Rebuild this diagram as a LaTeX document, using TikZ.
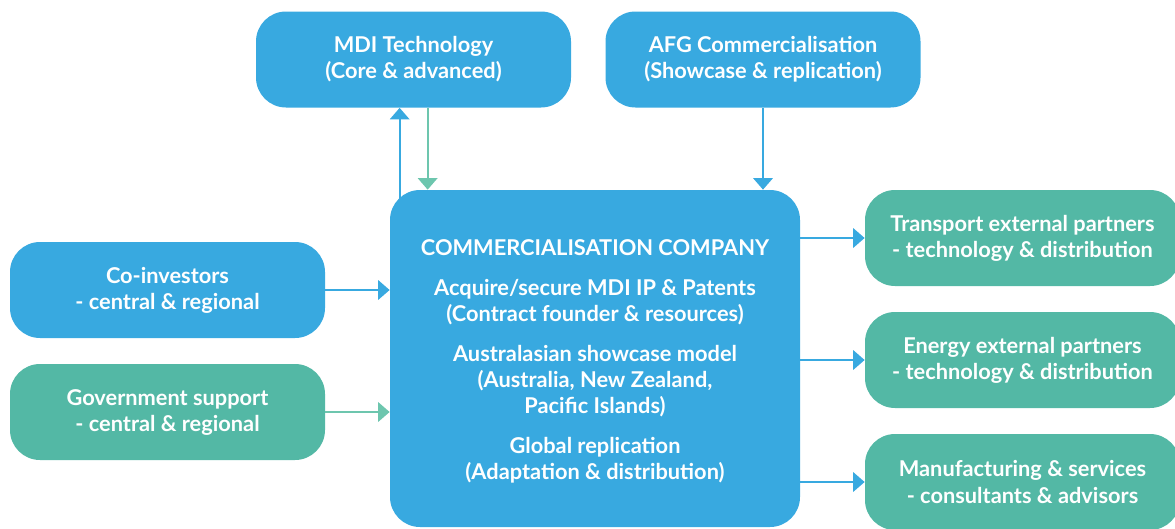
\documentclass[tikz,border=0pt]{standalone}
\usepackage{fontspec}
\setmainfont{Lato}
\usetikzlibrary{calc,arrows.meta}
\definecolor{mdiblue}{HTML}{38A9E0}
\definecolor{mdigreen}{HTML}{53B8A5}
\definecolor{arrowgreen}{HTML}{6DC6AE}
\tikzset{
  box/.style={rounded corners=0.6cm, minimum width=6.3cm, minimum height=1.92cm, inner sep=0pt,
    text=white, align=center, font=\bfseries\fontsize{12.4}{14.8}\selectfont},
  bluebox/.style={box, fill=mdiblue},
  greenbox/.style={box, fill=mdigreen},
  link/.style={line width=1.1pt, -{Triangle[width=11pt,length=6.5pt]}},
}
\begin{document}
\begin{tikzpicture}
			%%%%% BOXES %%%%%
			\useasboundingbox (0, 0) rectangle (23.5, -10.56);
			
			\node[bluebox] (mdi) at (8.27, -1.19) {MDI Technology\\(Core \& advanced)};
			\node[bluebox] (afg) at (15.26, -1.19) {AFG Commercialisation\\(Showcase \& replication)};
			
			\node[bluebox, minimum width=8.2cm, minimum height=6.74cm] (company) at (11.9, -7.17) {};
			\node[text=white, align=center, font=\bfseries\fontsize{12.4}{14.8}\selectfont] (companytext) at ($(company.center)+(0, -0.06)$)
			  {COMMERCIALISATION COMPANY\\[8pt]
			   Acquire/secure MDI IP \& Patents\\(Contract founder \& resources)\\[8pt]
			   Australasian showcase model\\(Australia, New Zealand,\\Pacific Islands)\\[8pt]
			   Global replication\\(Adaptation \& distribution)};
			
			\node[bluebox] (coinv) at (3.35, -5.8) {Co-investors\\- central \& regional};
			\node[greenbox] (govt) at (3.35, -8.24) {Government support\\- central \& regional};
			
			\node[greenbox] (transport) at (20.45, -4.76) {Transport external partners\\- technology \& distribution};
			\node[greenbox] (energy) at (20.45, -7.2) {Energy external partners\\- technology \& distribution};
			\node[greenbox] (manuf) at (20.45, -9.64) {Manufacturing \& services\\- consultants \& advisors};
			
			%%%%% ARROWS %%%%%
			\coordinate (mdiout) at ($(company.north west)+(0.2, -0.2)$);
			\coordinate (mdiin) at ($(company.north west)+(0.76, 0)$);
			\draw[link, mdiblue] (mdiout) -- (mdiout |- mdi.south);
			\draw[link, arrowgreen] (mdiin |- mdi.south) -- (mdiin);
			\draw[link, mdiblue] (afg.south) -- (afg.south |- company.north);
			
			\draw[link, mdiblue] (coinv.east) -- (coinv.east -| company.west);
			\draw[link, arrowgreen] (govt.east) -- (govt.east -| company.west);
			
			\draw[link, mdiblue] (company.east |- transport.west) -- (transport.west);
			\draw[link, mdiblue] (company.east |- energy.west) -- (energy.west);
			\draw[link, mdiblue] (company.east |- manuf.west) -- (manuf.west);
\end{tikzpicture}
\end{document}
